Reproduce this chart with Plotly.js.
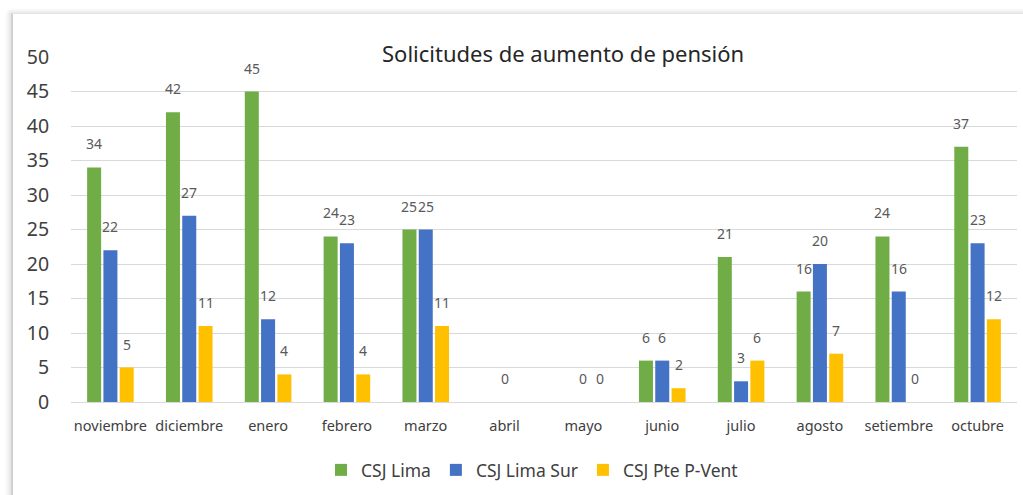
<!DOCTYPE html>
<html>
<head>
<meta charset="utf-8">
<script src="https://cdn.plot.ly/plotly-3.0.1.min.js"></script>
<style>
  html, body { margin: 0; padding: 0; background: #fff; overflow: hidden; }
  #wrap { position: relative; width: 1023px; height: 495px; }
  #chart { position: absolute; left: 0; top: 0; width: 1023px; height: 495px; }
  #frame { position: absolute; left: 11px; top: 13px; width: 1040px; height: 520px;
           border-left: 2px solid #d0d0d0; border-top: 1px solid #e2e2e2;
           box-shadow: -3px -2px 4px rgba(0,0,0,0.10); pointer-events: none; }
</style>
</head>
<body>
<div id="wrap">
  <div id="chart"></div>
  <div id="frame"></div>
</div>
<script>
const categories = ["noviembre","diciembre","enero","febrero","marzo","abril","mayo","junio","julio","agosto","setiembre","octubre"];
const seriesNames = ["CSJ Lima","CSJ Lima Sur","CSJ Pte P-Vent"];
const csjLima    = [34, 42, 45, 24, 25, null, null, 6, 21, 16, 24, 37];
const csjLimaSur = [22, 27, 12, 23, 25, 0, 0, 6, 3, 20, 16, 23];
const csjPteP    = [5, 11, 4, 4, 11, null, 0, 2, 6, 7, 0, 12];
const yTicks = [0, 5, 10, 15, 20, 25, 30, 35, 40, 45, 50];

const colors = ["#70AD47", "#4472C4", "#FFC000"];
const allSeries = [csjLima, csjLimaSur, csjPteP];

const W = 1023, H = 495;
const margin = {l: 71, r: 6, t: 57, b: 93};
const bargap = 0.38, bargroupgap = 0.14;
const plotW = W - margin.l - margin.r;
const plotH = H - margin.t - margin.b;
const catPx = plotW / categories.length;
const slotPx = catPx * (1 - bargap) / allSeries.length;

const font = "Noto Sans, Open Sans, sans-serif";

const traces = allSeries.map((vals, i) => ({
  type: "bar",
  name: seriesNames[i],
  x: categories,
  y: vals,
  marker: {color: colors[i]},
  hoverinfo: "x+y+name"
}));

const annotations = [];
allSeries.forEach((vals, i) => {
  vals.forEach((v, j) => {
    if (v === null) return;
    annotations.push({
      x: categories[j], y: v, xref: "x", yref: "y",
      text: String(v), showarrow: false,
      xanchor: "center", yanchor: "bottom",
      xshift: (i - 1) * slotPx, yshift: 12,
      font: {family: font, size: 14, color: "#595959"}
    });
  });
});

// title as annotation with white backing over the top gridline
annotations.push({
  x: (563 - margin.l) / plotW, y: 50, xref: "paper", yref: "y",
  text: "Solicitudes de aumento de pensión", showarrow: false,
  xanchor: "center", yanchor: "middle", yshift: 4,
  font: {family: font, size: 22, color: "#262626"}
});

const shapes = [{
  type: "rect", xref: "paper", yref: "paper", layer: "above",
  x0: (325 - margin.l) / plotW, x1: (802 - margin.l) / plotW,
  y0: 0.985, y1: 1.02,
  fillcolor: "#ffffff", line: {width: 0}
}];

const layout = {
  width: W, height: H,
  margin: margin,
  paper_bgcolor: "#ffffff", plot_bgcolor: "#ffffff",
  barmode: "group", bargap: bargap, bargroupgap: bargroupgap,
  showlegend: true,
  legend: {
    orientation: "h", x: (532 - margin.l) / plotW, xanchor: "center",
    y: (402 - 470) / plotH, yanchor: "middle",
    font: {family: font, size: 17.5, color: "#404040"},
    itemwidth: 30, traceorder: "normal"
  },
  xaxis: {
    type: "category",
    tickfont: {family: font, size: 14.5, color: "#404040"},
    ticks: "outside", ticklen: 11, tickcolor: "rgba(0,0,0,0)",
    showline: false, showgrid: false, zeroline: false,
    fixedrange: true
  },
  yaxis: {
    range: [0, 50], tickvals: yTicks, ticktext: yTicks.map(String),
    tickfont: {family: font, size: 19.5, color: "#404040"},
    ticks: "outside", ticklen: 17, tickcolor: "rgba(0,0,0,0)",
    showgrid: true, gridcolor: "#d9d9d9", gridwidth: 1,
    zeroline: true, zerolinecolor: "#d9d9d9", zerolinewidth: 1,
    showline: false, fixedrange: true
  },
  annotations: annotations,
  shapes: shapes
};

Plotly.newPlot("chart", traces, layout, {displayModeBar: false, staticPlot: true});
</script>
</body>
</html>
